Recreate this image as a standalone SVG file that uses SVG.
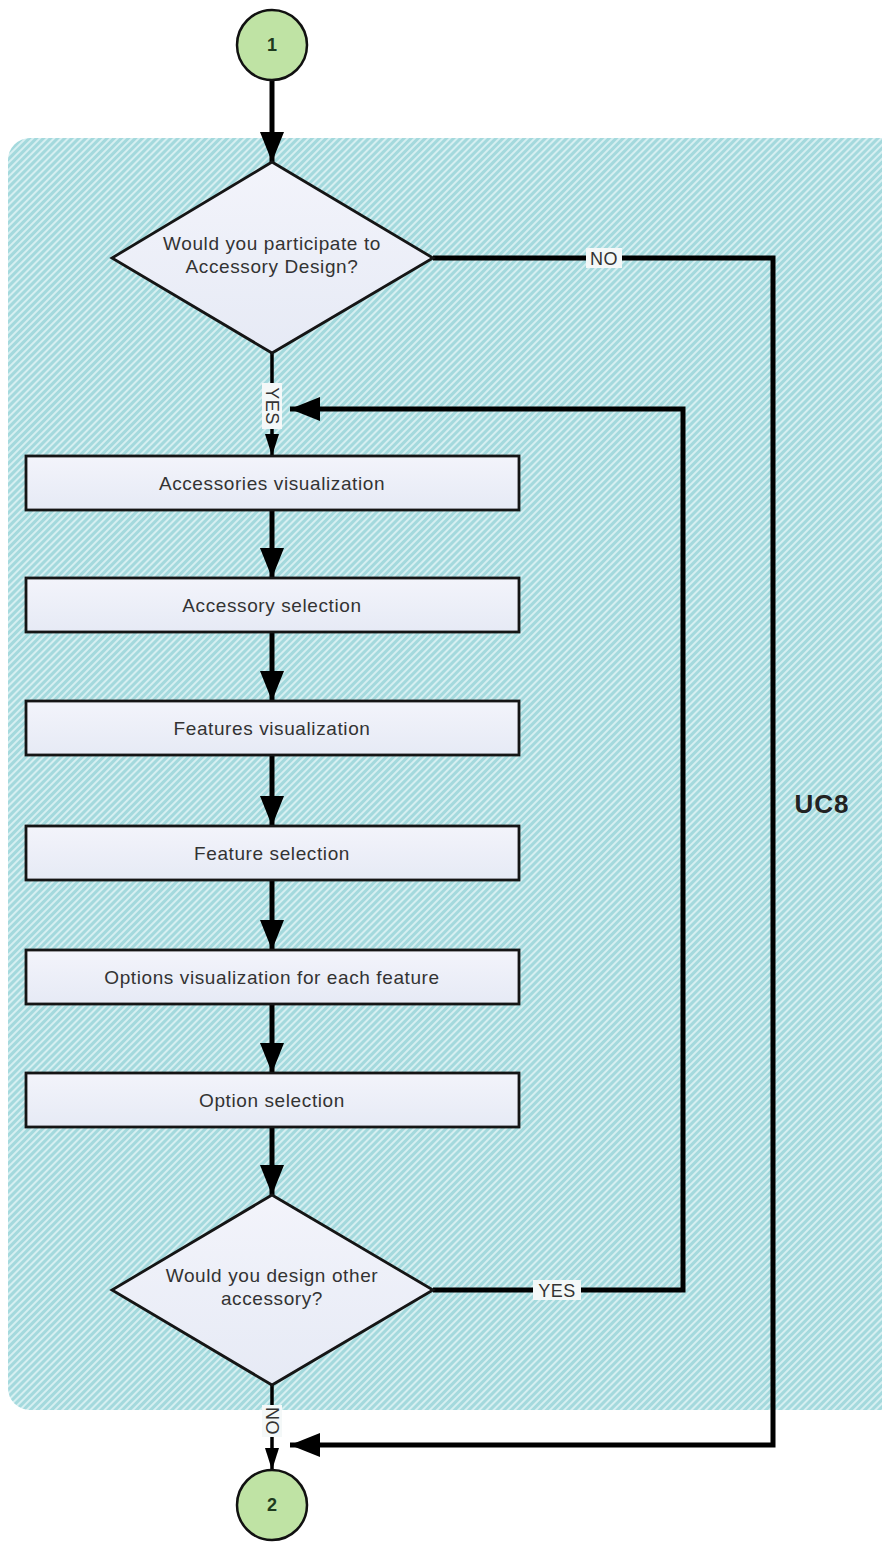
<svg xmlns="http://www.w3.org/2000/svg" width="882" height="1543" viewBox="0 0 882 1543">
  <defs>
    <pattern id="hatch" width="5" height="5" patternUnits="userSpaceOnUse" patternTransform="rotate(45)">
      <rect width="5" height="5" fill="#a4d9dd"/>
      <rect x="0" y="0" width="2" height="5" fill="#d6eff1"/>
    </pattern>
    <linearGradient id="boxFill" x1="0" y1="0" x2="0" y2="1">
      <stop offset="0" stop-color="#f3f4fb"/>
      <stop offset="1" stop-color="#e6eaf5"/>
    </linearGradient>
    <marker id="bigHead" viewBox="0 0 30 24" refX="30" refY="12" markerWidth="30" markerHeight="24" markerUnits="userSpaceOnUse" orient="auto">
      <path d="M0,0 L30,12 L0,24 Z" fill="#000"/>
    </marker>
    <marker id="smallHead" viewBox="0 0 22 14" refX="22" refY="7" markerWidth="22" markerHeight="14" markerUnits="userSpaceOnUse" orient="auto">
      <path d="M0,0 L22,7 L0,14 Z" fill="#000"/>
    </marker>
  </defs>
  <style>
    .node { fill: url(#boxFill); stroke: #151515; stroke-width: 2.8; }
    .term { fill: #bfe3a4; stroke: #111; stroke-width: 2.5; }
    .label { font-family: "Liberation Sans", Arial, sans-serif; font-size: 19px; letter-spacing: 0.6px; fill: #333; text-anchor: middle; }
    .num { font-family: "Liberation Sans", Arial, sans-serif; font-size: 18px; font-weight: bold; fill: #1e3a1e; text-anchor: middle; }
    .edge { fill: none; stroke: #000; stroke-width: 5; }
    .thin { fill: none; stroke: #000; stroke-width: 3.5; }
    .tag { font-family: "Liberation Sans", Arial, sans-serif; font-size: 18px; letter-spacing: 0.5px; fill: #333; text-anchor: middle; }
    .tagbg { fill: #f4f8f8; }
  </style>

  <rect width="882" height="1543" fill="#fff"/>

  <!-- UC8 swimlane panel -->
  <g id="panel-uc8">
    <rect x="8" y="138" width="900" height="1272" rx="22" ry="22" fill="url(#hatch)"/>
    <text x="822" y="813" font-family="'Liberation Sans', Arial, sans-serif" font-size="26" font-weight="bold" letter-spacing="1" fill="#222" text-anchor="middle">UC8</text>
  </g>

  <!-- connectors -->
  <g id="connectors">
    <line class="edge" x1="272" y1="80" x2="272" y2="162" marker-end="url(#bigHead)"/>
    <line class="thin" x1="272" y1="353" x2="272" y2="456" marker-end="url(#smallHead)"/>
    <line class="edge" x1="272" y1="510" x2="272" y2="578" marker-end="url(#bigHead)"/>
    <line class="edge" x1="272" y1="632" x2="272" y2="701" marker-end="url(#bigHead)"/>
    <line class="edge" x1="272" y1="755" x2="272" y2="826" marker-end="url(#bigHead)"/>
    <line class="edge" x1="272" y1="880" x2="272" y2="950" marker-end="url(#bigHead)"/>
    <line class="edge" x1="272" y1="1004" x2="272" y2="1073" marker-end="url(#bigHead)"/>
    <line class="edge" x1="272" y1="1127" x2="272" y2="1195" marker-end="url(#bigHead)"/>
    <line class="thin" x1="272" y1="1385" x2="272" y2="1470" marker-end="url(#smallHead)"/>
    <!-- NO branch: skip to end -->
    <polyline class="edge" points="433,258 773,258 773,1445 290,1445" marker-end="url(#bigHead)"/>
    <!-- YES loop: design another accessory -->
    <polyline class="edge" points="433,1290 683,1290 683,409 290,409" marker-end="url(#bigHead)"/>

    <!-- connector labels -->
    <rect class="tagbg" x="586" y="248" width="36" height="20"/>
    <text class="tag" x="604" y="265">NO</text>
    <rect class="tagbg" x="533" y="1280" width="48" height="20"/>
    <text class="tag" x="557" y="1297">YES</text>
    <rect class="tagbg" x="262" y="383" width="20" height="46"/>
    <text class="tag" transform="translate(266,406) rotate(90)">YES</text>
    <rect class="tagbg" x="262" y="1405" width="20" height="32"/>
    <text class="tag" transform="translate(266,1421) rotate(90)">NO</text>
  </g>

  <g id="start-1">
    <circle class="term" cx="272" cy="45" r="35"/>
    <text class="num" x="272" y="51">1</text>
  </g>

  <g id="decision-participate">
    <polygon class="node" points="272,162 433,258 272,353 112,258"/>
    <text class="label" x="272" y="250">Would you participate to</text>
    <text class="label" x="272" y="273">Accessory Design?</text>
  </g>

  <g id="step-accessories-visualization">
    <rect class="node" x="26" y="456" width="493" height="54"/>
    <text class="label" x="272" y="490">Accessories visualization</text>
  </g>

  <g id="step-accessory-selection">
    <rect class="node" x="26" y="578" width="493" height="54"/>
    <text class="label" x="272" y="612">Accessory selection</text>
  </g>

  <g id="step-features-visualization">
    <rect class="node" x="26" y="701" width="493" height="54"/>
    <text class="label" x="272" y="735">Features visualization</text>
  </g>

  <g id="step-feature-selection">
    <rect class="node" x="26" y="826" width="493" height="54"/>
    <text class="label" x="272" y="860">Feature selection</text>
  </g>

  <g id="step-options-visualization">
    <rect class="node" x="26" y="950" width="493" height="54"/>
    <text class="label" x="272" y="984">Options visualization for each feature</text>
  </g>

  <g id="step-option-selection">
    <rect class="node" x="26" y="1073" width="493" height="54"/>
    <text class="label" x="272" y="1107">Option selection</text>
  </g>

  <g id="decision-other-accessory">
    <polygon class="node" points="272,1195 433,1290 272,1385 112,1290"/>
    <text class="label" x="272" y="1282">Would you design other</text>
    <text class="label" x="272" y="1305">accessory?</text>
  </g>

  <g id="end-2">
    <circle class="term" cx="272" cy="1505" r="35"/>
    <text class="num" x="272" y="1511">2</text>
  </g>
</svg>
